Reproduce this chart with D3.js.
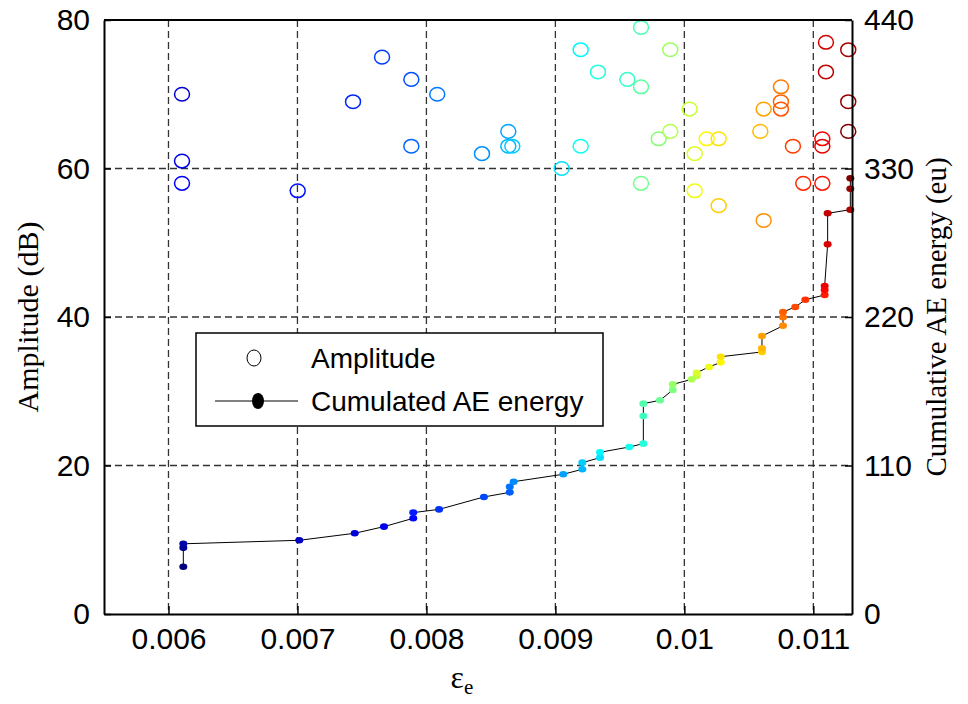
<!DOCTYPE html>
<html><head><meta charset="utf-8">
<script src="https://cdn.jsdelivr.net/npm/d3@7"></script>
<style>body{margin:0;background:#fff}svg{display:block}</style>
</head><body><svg id="c" width="968" height="704"></svg>
<script>
// Amplitude (dB) vs strain
const ampStrain = [0.006105,0.006105,0.006105,0.007002,0.007431,0.007656,0.007883,0.007883,0.008084,0.008431,
  0.008635,0.008635,0.008666,0.009049,0.009196,0.009196,0.00933,0.009558,0.009664,0.009664,0.009664,
  0.009801,0.009891,0.009891,0.010041,0.01008,0.01008,0.010173,0.010266,0.010266,0.010589,0.010615,0.010615,
  0.010749,0.010749,0.010749,0.010842,0.010922,0.01107,0.01107,0.01107,0.011098,0.011098,0.011271,0.011271,0.011271];
const ampValues = [70,61,58,57,69,75,72,63,70,62,
  65,63,63,60,76,63,73,72,79,71,58,
  64,76,65,68,62,57,64,64,55,65,68,53,
  71,69,68,63,58,58,64,63,77,73,76,69,65];
// Cumulated AE energy (eu) vs strain
const energyStrain = [0.006115,0.006115,0.006115,0.007014,0.007444,0.007671,0.007898,0.007898,0.008098,0.008446,
  0.008646,0.008646,0.008676,0.009061,0.009209,0.009209,0.009346,0.009346,0.009573,0.009682,0.009682,0.009682,
  0.009811,0.00991,0.00991,0.010057,0.010096,0.010096,0.010191,0.010282,0.010282,0.010602,0.010602,0.010602,
  0.010765,0.010765,0.010765,0.01086,0.010938,0.011088,0.011088,0.011088,0.011111,0.011111,0.011287,0.011287,0.011287];
const energyValues = [35,49,52,54.6,59.8,64.7,70.9,75.1,77.5,86.7,
  90.1,94.3,98,103.5,107.2,112.1,115.8,119.8,123.7,126.2,146.7,155.8,
  158.3,165.9,170.1,173.8,176.3,178.7,183,186.4,190.6,194.1,196.8,205.9,
  213.5,219.8,223.7,227.4,232.8,236.3,240,243,273.8,296.8,299.5,315,322.7];
const xTicks = [0.006,0.007,0.008,0.009,0.01,0.011];
const xTickLabels = ["0.006","0.007","0.008","0.009","0.01","0.011"];
const yLeftTicks = [0,20,40,60,80];
const yRightTicks = [0,110,220,330,440];
const legendLabels = ["Amplitude","Cumulated AE energy"];

const svg = d3.select("#c");
const L=104,R=852,T=20,B=614;
const x = d3.scaleLinear().domain([0.0055,0.0113]).range([L,R]);
const yL = d3.scaleLinear().domain([0,80]).range([B,T]);
const yR = d3.scaleLinear().domain([0,440]).range([B,T]);
function jet(t){
  const c=v=>Math.round(255*Math.max(0,Math.min(1,v)));
  return `rgb(${c(1.5-Math.abs(4*t-3))},${c(1.5-Math.abs(4*t-2))},${c(1.5-Math.abs(4*t-1))})`;
}
const SANS="'Liberation Sans', Arial, sans-serif", SERIF="'Liberation Serif','Times New Roman',serif";

// grid
const g = svg.append("g");
g.selectAll(".vg").data(xTicks).join("line")
  .attr("x1",d=>x(d)).attr("x2",d=>x(d)).attr("y1",T).attr("y2",B)
  .attr("stroke","#333").attr("stroke-width",1.3).attr("stroke-dasharray","7,4");
g.selectAll(".hg").data(yLeftTicks.slice(1,-1)).join("line")
  .attr("x1",L).attr("x2",R).attr("y1",d=>yL(d)).attr("y2",d=>yL(d))
  .attr("stroke","#333").attr("stroke-width",1.3).attr("stroke-dasharray","7,4");

// amplitude circles
svg.append("g").selectAll("ellipse").data(ampValues).join("ellipse")
  .attr("cx",(d,i)=>x(ampStrain[i])).attr("cy",d=>yL(d))
  .attr("rx",7.5).attr("ry",6.8).attr("fill","none")
  .attr("stroke",(d,i)=>jet(0.08+0.92*i/(ampValues.length-1))).attr("stroke-width",1.5);

// energy line + dots
const pts = energyValues.map((v,i)=>[energyStrain[i],v]);
svg.append("path").datum(pts)
  .attr("d",d3.line().x(d=>x(d[0])).y(d=>yR(d[1])))
  .attr("fill","none").attr("stroke","#000").attr("stroke-width",1);
svg.append("g").selectAll("ellipse").data(pts).join("ellipse")
  .attr("cx",d=>x(d[0])).attr("cy",d=>yR(d[1]))
  .attr("rx",4).attr("ry",3.3)
  .attr("fill",(d,i)=>jet(i/(pts.length-1)));

// axes
const axB = d3.axisBottom(x).tickValues(xTicks).tickFormat((d,i)=>xTickLabels[i]).tickSizeInner(-8).tickSizeOuter(0).tickPadding(14);
const axL = d3.axisLeft(yL).tickValues(yLeftTicks).tickSizeInner(-7).tickSizeOuter(0).tickPadding(14);
const axR = d3.axisRight(yR).tickValues(yRightTicks).tickSizeInner(-7).tickSizeOuter(0).tickPadding(12);
function style(sel){
  sel.select(".domain").attr("stroke","#000").attr("stroke-width",2);
  sel.selectAll(".tick line").attr("stroke","#000").attr("stroke-width",1.5);
  sel.selectAll(".tick text").attr("fill","#000").style("font-family",SANS).style("font-size","30px");
}
svg.append("g").attr("transform",`translate(0,${B})`).call(axB).call(style);
svg.append("g").attr("transform",`translate(${L},0)`).call(axL).call(style);
svg.append("g").attr("transform",`translate(${R},0)`).call(axR).call(style);
svg.append("line").attr("x1",L).attr("x2",R).attr("y1",T).attr("y2",T).attr("stroke","#000").attr("stroke-width",2);

// axis titles
svg.append("text").attr("transform",`translate(38,${(T+B)/2}) rotate(-90)`).attr("text-anchor","middle")
  .style("font-family",SERIF).style("font-size","30px").text("Amplitude (dB)");
svg.append("text").attr("transform",`translate(946,${(T+B)/2}) rotate(-90)`).attr("text-anchor","middle")
  .style("font-family",SERIF).style("font-size","29px").text("Cumulative AE energy (eu)");
const xt = svg.append("text").attr("x",462).attr("y",688).attr("text-anchor","middle")
  .style("font-family",SERIF).style("font-size","32px");
xt.append("tspan").text("ε");
xt.append("tspan").attr("dy",6).style("font-size","21px").text("e");

// legend
const lg = svg.append("g");
lg.append("rect").attr("x",196).attr("y",333).attr("width",407).attr("height",93)
  .attr("fill","#fff").attr("stroke","#000").attr("stroke-width",1.5);
lg.append("ellipse").attr("cx",254).attr("cy",358).attr("rx",7).attr("ry",8).attr("fill","none").attr("stroke","#000").attr("stroke-width",1);
lg.append("line").attr("x1",215).attr("x2",298).attr("y1",401).attr("y2",401).attr("stroke","#000").attr("stroke-width",1);
lg.append("ellipse").attr("cx",258).attr("cy",401).attr("rx",6).attr("ry",8).attr("fill","#000");
lg.selectAll("text").data(legendLabels).join("text")
  .attr("x",311).attr("y",(d,i)=>i?401:358).attr("dominant-baseline","central")
  .style("font-family",SANS).style("font-size","28px").text(d=>d);
</script></body></html>
